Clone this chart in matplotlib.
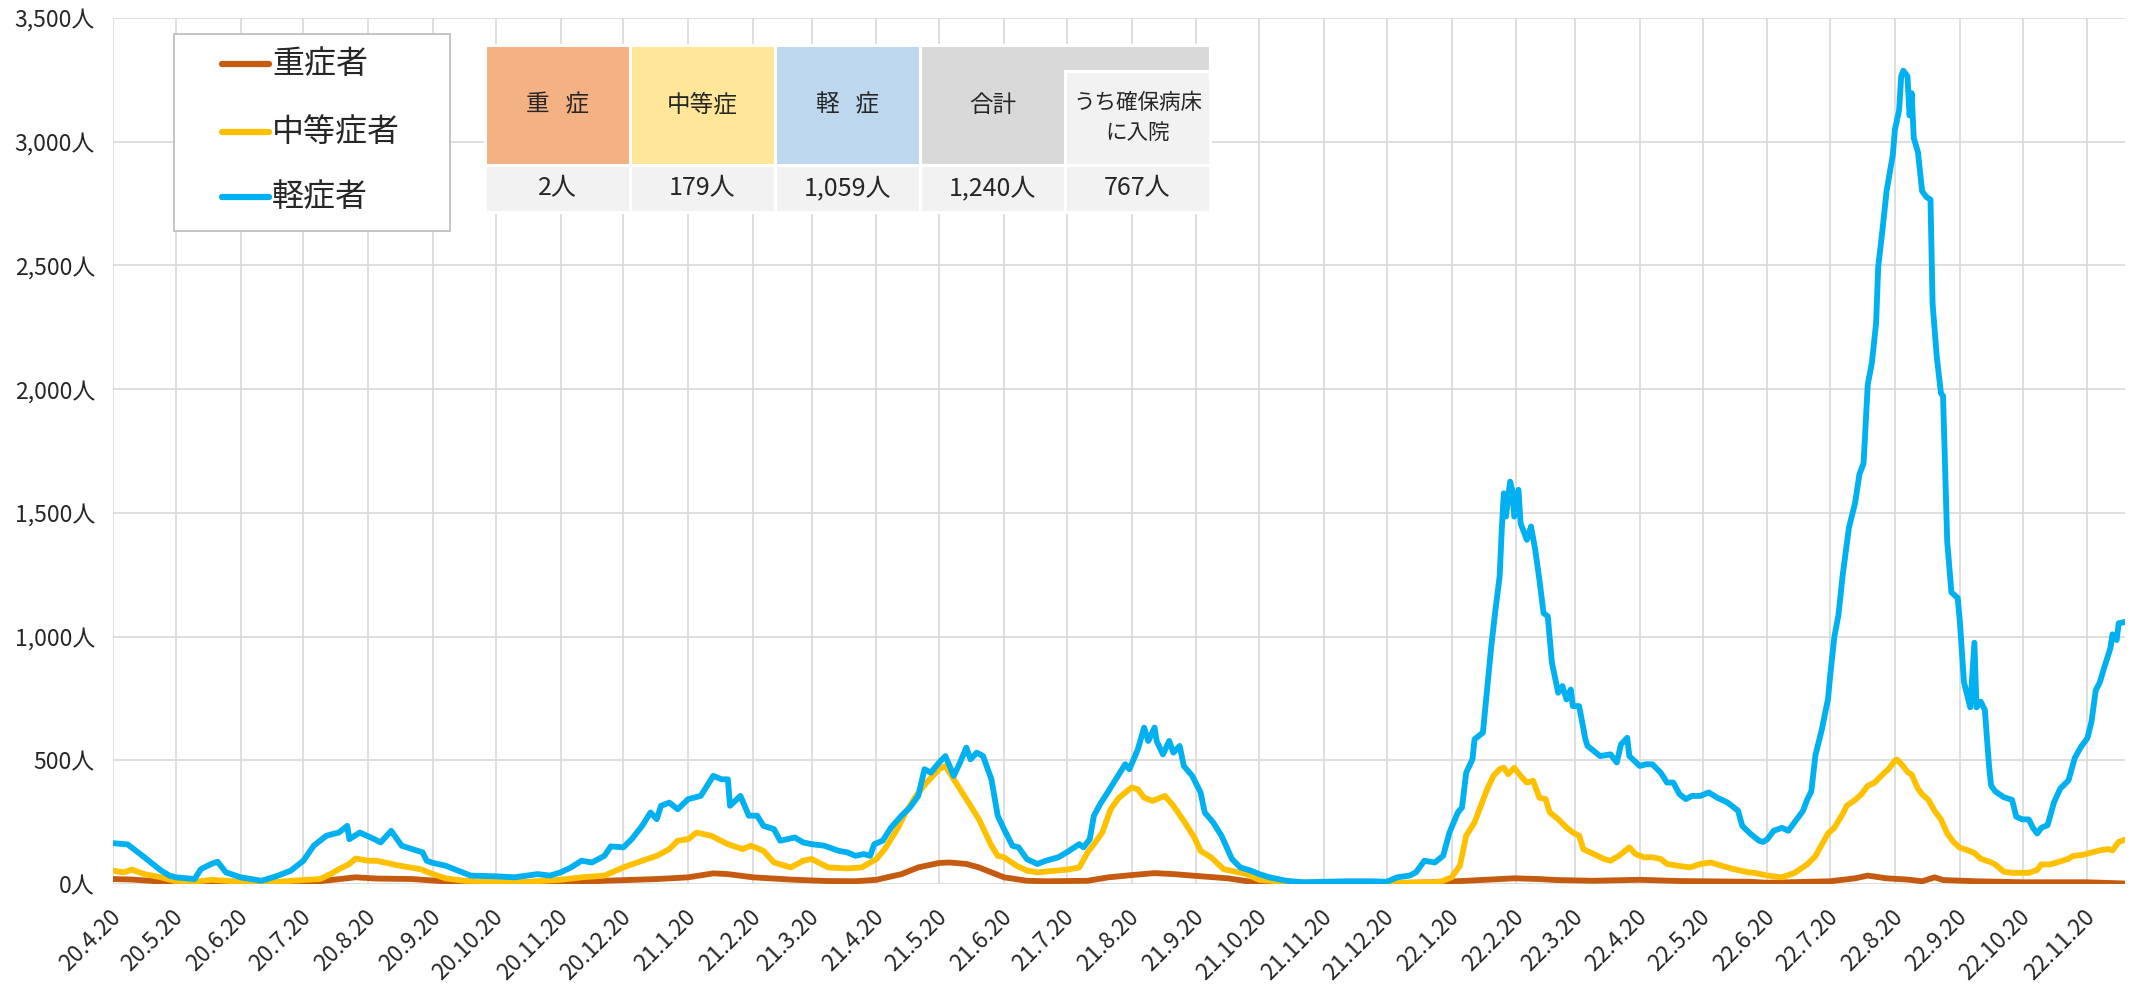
import datetime as dt

import matplotlib
import matplotlib.pyplot as plt
import matplotlib.dates as mdates
from matplotlib.lines import Line2D
from matplotlib.patches import Rectangle
from matplotlib.ticker import FuncFormatter, MultipleLocator
from matplotlib.transforms import ScaledTranslation

matplotlib.use("Agg")
plt.rcParams["font.family"] = ["Noto Sans CJK JP", "DejaVu Sans"]

# --- data (dates as yy.m.d, values in persons) ---
series_labels = ["重症者", "中等症者", "軽症者"]
series_colors = ["#C55A11", "#FFC000", "#00B0F0"]

severe_dates = [
    "20.4.20", "20.4.29", "20.5.13", "20.5.20", "20.6.20", "20.7.20", "20.8.1", "20.8.14", "20.8.24",
    "20.9.10", "20.9.20", "20.10.5", "20.10.20", "20.11.20", "20.12.11", "21.1.5", "21.1.20", "21.2.1",
    "21.2.8", "21.2.20", "21.3.12", "21.3.28", "21.4.10", "21.4.20", "21.5.2", "21.5.10", "21.5.20",
    "21.5.25", "21.6.2", "21.6.8", "21.6.14", "21.6.20", "21.7.1", "21.7.10", "21.7.30", "21.8.9",
    "21.8.20", "21.8.31", "21.9.9", "21.9.24", "21.10.5", "21.10.16", "21.11.2", "21.12.20", "22.1.12",
    "22.1.27", "22.2.19", "22.3.3", "22.3.11", "22.3.29", "22.4.20", "22.5.9", "22.6.11", "22.6.20",
    "22.7.20", "22.8.1", "22.8.7", "22.8.16", "22.8.26", "22.9.2", "22.9.8", "22.9.12", "22.9.28",
    "22.10.20", "22.11.20", "22.12.8",
]
severe_vals = [
    20, 18, 10, 4, 2, 5, 15, 27, 22,
    20, 14, 5, 3, 5, 13, 20, 27, 43,
    40, 27, 17, 12, 11, 17, 40, 67, 85,
    87, 81, 67, 47, 27, 13, 11, 13, 27,
    36, 44, 40, 30, 23, 9, 4, 3, 7,
    13, 23, 20, 16, 13, 17, 12, 9, 5,
    11, 23, 34, 23, 18, 11, 27, 16, 11,
    7, 7, 2,
]

moderate_dates = [
    "20.4.20", "20.4.25", "20.4.29", "20.5.5", "20.5.13", "20.5.20", "20.5.29", "20.6.6", "20.6.20",
    "20.6.30", "20.7.8", "20.7.20", "20.7.28", "20.8.2", "20.8.6", "20.8.11", "20.8.14", "20.8.20",
    "20.8.24", "20.8.29", "20.9.4", "20.9.14", "20.9.20", "20.9.26", "20.10.5", "20.10.20", "20.11.4",
    "20.11.20", "20.11.30", "20.12.11", "20.12.20", "20.12.29", "21.1.5", "21.1.11", "21.1.15", "21.1.20",
    "21.1.24", "21.1.31", "21.2.8", "21.2.15", "21.2.19", "21.2.25", "21.3.2", "21.3.10", "21.3.16",
    "21.3.20", "21.3.28", "21.4.6", "21.4.13", "21.4.20", "21.4.24", "21.4.30", "21.5.4", "21.5.9",
    "21.5.14", "21.5.20", "21.5.23", "21.5.27", "21.6.2", "21.6.8", "21.6.14", "21.6.17", "21.6.20",
    "21.6.26", "21.7.1", "21.7.6", "21.7.15", "21.7.20", "21.7.26", "21.7.30", "21.8.2", "21.8.6",
    "21.8.10", "21.8.14", "21.8.20", "21.8.23", "21.8.26", "21.8.30", "21.9.5", "21.9.9", "21.9.14",
    "21.9.19", "21.9.22", "21.9.27", "21.10.3", "21.10.14", "21.10.20", "21.11.2", "21.11.20", "21.12.20",
    "22.1.12", "22.1.16", "22.1.20", "22.1.24", "22.1.27", "22.1.31", "22.2.3", "22.2.6", "22.2.9",
    "22.2.12", "22.2.14", "22.2.16", "22.2.19", "22.2.22", "22.2.25", "22.2.28", "22.3.3", "22.3.6",
    "22.3.8", "22.3.12", "22.3.16", "22.3.19", "22.3.22", "22.3.24", "22.3.29", "22.4.3", "22.4.6",
    "22.4.10", "22.4.15", "22.4.18", "22.4.22", "22.4.26", "22.4.30", "22.5.3", "22.5.8", "22.5.14",
    "22.5.19", "22.5.24", "22.5.29", "22.6.4", "22.6.11", "22.6.14", "22.6.20", "22.6.27", "22.7.3",
    "22.7.9", "22.7.13", "22.7.16", "22.7.19", "22.7.22", "22.7.26", "22.7.28", "22.8.1", "22.8.4",
    "22.8.7", "22.8.10", "22.8.14", "22.8.17", "22.8.20", "22.8.21", "22.8.24", "22.8.26", "22.8.28",
    "22.8.31", "22.9.2", "22.9.5", "22.9.8", "22.9.11", "22.9.14", "22.9.17", "22.9.20", "22.9.24",
    "22.9.27", "22.9.30", "22.10.4", "22.10.7", "22.10.11", "22.10.15", "22.10.19", "22.10.23", "22.10.27",
    "22.10.29", "22.11.2", "22.11.7", "22.11.11", "22.11.13", "22.11.18", "22.11.21", "22.11.26", "22.11.30",
    "22.12.2", "22.12.5", "22.12.8",
]
moderate_vals = [
    54, 47, 58, 40, 27, 11, 9, 17, 9,
    4, 9, 16, 20, 40, 60, 81, 103, 94,
    94, 85, 74, 60, 40, 23, 13, 9, 9,
    17, 27, 34, 67, 94, 114, 141, 175, 181,
    208, 195, 161, 141, 155, 134, 87, 67, 94,
    101, 67, 63, 67, 101, 141, 222, 289, 356,
    410, 464, 477, 423, 343, 262, 155, 114, 108,
    74, 54, 47, 54, 58, 67, 128, 161, 208,
    302, 349, 390, 383, 349, 336, 356, 316, 255,
    188, 134, 108, 60, 40, 17, 7, 4, 4,
    7, 13, 27, 74, 195, 249, 316, 383, 437,
    464, 470, 444, 470, 437, 410, 417, 349, 343,
    289, 262, 228, 208, 195, 141, 121, 101, 94,
    114, 148, 121, 108, 108, 101, 81, 74, 67,
    81, 87, 74, 60, 47, 45, 34, 27, 45,
    79, 113, 159, 204, 227, 283, 317, 340, 363,
    397, 408, 442, 465, 499, 503, 476, 453, 442,
    385, 363, 340, 295, 261, 204, 170, 147, 136,
    125, 102, 91, 79, 50, 45, 45, 45, 57,
    79, 79, 91, 102, 113, 118, 125, 136, 141,
    136, 170, 179,
]

mild_dates = [
    "20.4.20", "20.4.27", "20.5.5", "20.5.13", "20.5.17", "20.5.20", "20.5.29", "20.6.1", "20.6.6",
    "20.6.9", "20.6.13", "20.6.20", "20.6.30", "20.7.8", "20.7.14", "20.7.20", "20.7.25", "20.7.31",
    "20.8.6", "20.8.10", "20.8.11", "20.8.16", "20.8.23", "20.8.26", "20.8.31", "20.9.5", "20.9.10",
    "20.9.15", "20.9.17", "20.9.20", "20.9.26", "20.10.2", "20.10.8", "20.10.20", "20.10.29", "20.11.9",
    "20.11.15", "20.11.20", "20.11.25", "20.11.30", "20.12.5", "20.12.11", "20.12.14", "20.12.20", "20.12.24",
    "20.12.29", "21.1.2", "21.1.5", "21.1.7", "21.1.11", "21.1.15", "21.1.20", "21.1.26", "21.1.29",
    "21.2.1", "21.2.5", "21.2.8", "21.2.9", "21.2.14", "21.2.18", "21.2.22", "21.2.25", "21.3.2",
    "21.3.5", "21.3.12", "21.3.16", "21.3.20", "21.3.26", "21.4.2", "21.4.6", "21.4.10", "21.4.14",
    "21.4.17", "21.4.19", "21.4.23", "21.4.27", "21.5.2", "21.5.6", "21.5.10", "21.5.13", "21.5.16",
    "21.5.20", "21.5.23", "21.5.27", "21.5.30", "21.6.2", "21.6.4", "21.6.7", "21.6.10", "21.6.14",
    "21.6.17", "21.6.20", "21.6.24", "21.6.27", "21.7.1", "21.7.6", "21.7.10", "21.7.16", "21.7.20",
    "21.7.26", "21.7.28", "21.7.31", "21.8.2", "21.8.5", "21.8.9", "21.8.12", "21.8.17", "21.8.19",
    "21.8.23", "21.8.26", "21.8.28", "21.8.31", "21.9.1", "21.9.4", "21.9.7", "21.9.9", "21.9.12",
    "21.9.14", "21.9.18", "21.9.22", "21.9.24", "21.9.28", "21.10.2", "21.10.7", "21.10.11", "21.10.16",
    "21.10.20", "21.10.25", "21.11.2", "21.11.10", "21.11.20", "21.12.1", "21.12.12", "21.12.20", "21.12.25",
    "21.12.31", "22.1.3", "22.1.7", "22.1.12", "22.1.16", "22.1.19", "22.1.23", "22.1.25", "22.1.27",
    "22.1.30", "22.1.31", "22.2.4", "22.2.6", "22.2.8", "22.2.10", "22.2.12", "22.2.13", "22.2.14",
    "22.2.15", "22.2.16", "22.2.17", "22.2.18", "22.2.19", "22.2.21", "22.2.22", "22.2.25", "22.2.27",
    "22.3.1", "22.3.3", "22.3.5", "22.3.7", "22.3.9", "22.3.10", "22.3.12", "22.3.14", "22.3.16",
    "22.3.18", "22.3.19", "22.3.22", "22.3.25", "22.3.26", "22.3.29", "22.4.1", "22.4.6", "22.4.9",
    "22.4.11", "22.4.14", "22.4.15", "22.4.20", "22.4.23", "22.4.26", "22.4.30", "22.5.3", "22.5.6",
    "22.5.9", "22.5.12", "22.5.15", "22.5.19", "22.5.23", "22.5.27", "22.6.1", "22.6.6", "22.6.8",
    "22.6.12", "22.6.16", "22.6.18", "22.6.20", "22.6.23", "22.6.27", "22.6.30", "22.7.3", "22.7.7",
    "22.7.9", "22.7.11", "22.7.13", "22.7.16", "22.7.19", "22.7.20", "22.7.22", "22.7.24", "22.7.26",
    "22.7.29", "22.8.1", "22.8.3", "22.8.5", "22.8.7", "22.8.9", "22.8.11", "22.8.12", "22.8.14",
    "22.8.16", "22.8.19", "22.8.20", "22.8.22", "22.8.23", "22.8.24", "22.8.26", "22.8.27", "22.8.28",
    "22.8.29", "22.8.31", "22.9.2", "22.9.4", "22.9.6", "22.9.7", "22.9.9", "22.9.11", "22.9.12",
    "22.9.14", "22.9.16", "22.9.19", "22.9.20", "22.9.22", "22.9.23", "22.9.25", "22.9.27", "22.9.28",
    "22.9.30", "22.10.2", "22.10.4", "22.10.5", "22.10.7", "22.10.11", "22.10.15", "22.10.17", "22.10.20",
    "22.10.23", "22.10.25", "22.10.27", "22.10.29", "22.11.1", "22.11.4", "22.11.7", "22.11.11", "22.11.14",
    "22.11.17", "22.11.20", "22.11.22", "22.11.24", "22.11.26", "22.11.28", "22.12.1", "22.12.2", "22.12.4",
    "22.12.5", "22.12.8",
]
mild_vals = [
    165, 160, 108, 54, 34, 27, 20, 60, 81,
    90, 47, 27, 13, 34, 54, 94, 155, 195,
    208, 235, 181, 208, 181, 168, 215, 155, 141,
    128, 94, 85, 74, 54, 34, 31, 27, 40,
    34, 47, 67, 94, 87, 114, 152, 148, 181,
    235, 289, 262, 316, 329, 302, 343, 356, 396,
    437, 423, 423, 316, 356, 276, 276, 235, 222,
    175, 188, 168, 161, 155, 134, 128, 114, 121,
    114, 161, 175, 228, 276, 309, 356, 464, 450,
    491, 517, 437, 491, 551, 504, 531, 517, 423,
    276, 222, 155, 148, 100, 81, 94, 108, 128,
    161, 148, 181, 276, 323, 376, 417, 484, 464,
    544, 632, 578, 632, 578, 524, 578, 531, 558,
    477, 437, 370, 289, 249, 195, 101, 67, 54,
    40, 27, 13, 7, 9, 11, 11, 9, 27,
    34, 47, 94, 87, 114, 208, 289, 309, 450,
    504, 585, 612, 786, 961, 1109, 1243, 1431, 1579,
    1485, 1552, 1626, 1593, 1485, 1593, 1458, 1391, 1445,
    1351, 1230, 1095, 1082, 894, 853, 773, 800, 746,
    786, 719, 719, 585, 558, 538, 517, 524, 491,
    564, 591, 517, 477, 484, 484, 450, 410, 410,
    363, 343, 356, 356, 370, 349, 329, 296, 235,
    202, 175, 170, 181, 215, 227, 215, 249, 295,
    340, 374, 521, 623, 748, 839, 997, 1088, 1247,
    1440, 1542, 1655, 1700, 2018, 2108, 2267, 2494, 2641,
    2800, 2947, 3049, 3128, 3264, 3287, 3264, 3106, 3196,
    3015, 2958, 2800, 2777, 2766, 2346, 2131, 1984, 1972,
    1383, 1179, 1156, 1066, 816, 782, 714, 975, 714,
    737, 703, 476, 397, 374, 351, 340, 272, 261,
    261, 227, 204, 227, 238, 329, 385, 419, 510,
    555, 589, 657, 782, 816, 873, 952, 1009, 986,
    1054, 1059,
]

# summary table (latest day)
table_headers = ["重   症", "中等症", "軽   症", "合計", "うち確保病床\nに入院"]
table_values = ["2人", "179人", "1,059人", "1,240人", "767人"]
header_colors = ["#F4B183", "#FFE699", "#BDD7EE", "#D9D9D9", "#F2F2F2"]

W, H = 2149, 994
TEXT = "#262626"
GRID = "#D9D9D9"


def fx(px):
    return px / W


def fy(py):
    return 1 - py / H


def parse(dates):
    return [dt.datetime.strptime(s, "%y.%m.%d") for s in dates]


fig = plt.figure(figsize=(W / 100, H / 100), dpi=100)
ax = fig.add_axes([fx(113), fy(884), fx(2125) - fx(113), fy(18) - fy(884)])

all_series = [
    (severe_dates, severe_vals),
    (moderate_dates, moderate_vals),
    (mild_dates, mild_vals),
]
for (dates, vals), color, label, z in zip(all_series, series_colors, series_labels, [3, 4, 5]):
    ax.plot(parse(dates), vals, color=color, lw=4.2, label=label, zorder=z,
            solid_joinstyle="round", solid_capstyle="round")

# axes
ax.set_xlim(dt.datetime(2020, 4, 20), dt.datetime(2022, 12, 8))
ax.set_ylim(0, 3500)
ax.yaxis.set_major_locator(MultipleLocator(500))
ax.yaxis.set_major_formatter(FuncFormatter(lambda v, p: f"{int(v):,}人"))
ax.xaxis.set_major_locator(mdates.MonthLocator(bymonthday=20))
ax.xaxis.set_major_formatter(
    FuncFormatter(lambda v, p: "{0:%y}.{0.month}.{0.day}".format(mdates.num2date(v)))
)
ax.grid(True, color=GRID, lw=1.2)
ax.set_axisbelow(True)
for s in ax.spines.values():
    s.set_visible(False)
ax.tick_params(axis="both", length=0, labelsize=16.5, colors=TEXT)
ax.tick_params(axis="y", pad=13)
ax.tick_params(axis="x", pad=14)
for lbl in ax.get_xticklabels():
    lbl.set_rotation(45)
    lbl.set_ha("right")
    lbl.set_va("center")
    lbl.set_rotation_mode("anchor")
offset = ScaledTranslation(4 / 100, -10 / 100, fig.dpi_scale_trans)
for lbl in ax.xaxis.get_majorticklabels():
    lbl.set_transform(lbl.get_transform() + offset)

# legend box drawn by hand to match the original layout
fig.add_artist(Rectangle((fx(174), fy(231)), fx(450) - fx(174), fy(34) - fy(231),
                         transform=fig.transFigure, facecolor="white",
                         edgecolor="#BFBFBF", lw=1.3, zorder=5))
for label, color, row_y in zip(series_labels, series_colors, [64, 132, 197]):
    fig.add_artist(Line2D([fx(222), fx(269)], [fy(row_y), fy(row_y)], color=color, lw=4.5,
                          solid_capstyle="round", transform=fig.transFigure, zorder=6))
    fig.text(fx(272), fy(row_y), label, fontsize=23, color=TEXT, ha="left", va="center", zorder=6)

# summary table
col_edges = [485, 630, 775, 920, 1065, 1210]
head_top, band_bottom, head_bottom, val_bottom = 45, 71, 165, 212


def cell(x0, x1, y0, y1, color):
    fig.add_artist(Rectangle((fx(x0), fy(y1)), fx(x1) - fx(x0), fy(y0) - fy(y1),
                             transform=fig.transFigure, facecolor=color,
                             edgecolor="white", lw=2.2, zorder=5))


for i in range(3):
    cell(col_edges[i], col_edges[i + 1], head_top, head_bottom, header_colors[i])
cell(col_edges[3], col_edges[5], head_top, head_bottom, header_colors[3])
cell(col_edges[4], col_edges[5], band_bottom, head_bottom, header_colors[4])
for i in range(5):
    cell(col_edges[i], col_edges[i + 1], head_bottom, val_bottom, "#F2F2F2")

for i, (hdr, val) in enumerate(zip(table_headers, table_values)):
    cx = (col_edges[i] + col_edges[i + 1]) / 2
    hy = (band_bottom + head_bottom) / 2 if i == 4 else (head_top + head_bottom) / 2
    fig.text(fx(cx), fy(hy), hdr, fontsize=17 if i < 4 else 15.5, color=TEXT,
             ha="center", va="center", linespacing=1.45, zorder=6)
    fig.text(fx(cx), fy((head_bottom + val_bottom) / 2), val, fontsize=18, color=TEXT,
             ha="center", va="center", zorder=6)

fig.savefig("out.png", dpi=100)
plt.close(fig)
